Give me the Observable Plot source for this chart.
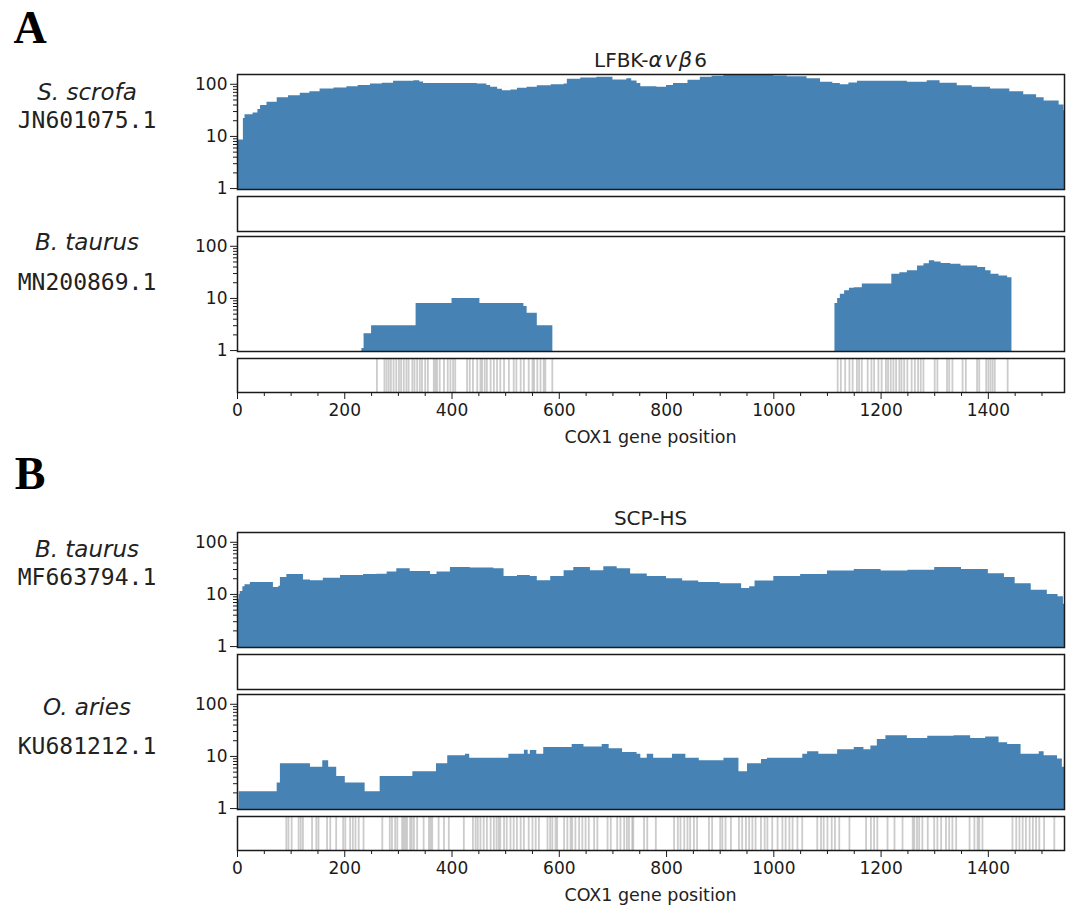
<!DOCTYPE html>
<html><head><meta charset="utf-8">
<script src="https://cdn.jsdelivr.net/npm/d3@7"></script>
<script src="https://cdn.jsdelivr.net/npm/@observablehq/plot@0.6"></script>
<style>
body{margin:0;background:#fff;}
#fig{position:relative;width:1072px;height:906px;background:#fff;font-family:"DejaVu Sans",sans-serif;color:#222;overflow:hidden;}
#fig svg{overflow:visible;}
.m{font-style:italic;font-size:21px;letter-spacing:2px;}
</style></head><body><div id="fig"></div>
<script>
// ---------------- data ----------------
const geneLength = 1542;
const panelLetters = ["A", "B"];
const panelTitles = ["LFBK-<span class='m'>αvβ</span>6", "SCP-HS"];
const speciesNames = ["S. scrofa", "B. taurus", "B. taurus", "O. aries"];
const accessions = ["JN601075.1", "MN200869.1", "MF663794.1", "KU681212.1"];
const xLabel = "COX1 gene position";
const yMajorTicks = [1, 10, 100];
const yMinorTicks = [2, 3, 4, 5, 6, 7, 8, 9, 20, 30, 40, 50, 60, 70, 80, 90];
const xMajorTicks = [0, 200, 400, 600, 800, 1000, 1200, 1400];
const xMinorTicks = [50, 100, 150, 250, 300, 350, 450, 500, 550, 650, 700, 750, 850, 900, 950, 1050, 1100, 1150, 1250, 1300, 1350, 1450, 1500];
const coverageFloor = 0.96;
const coverageCeil = 154;

// coverage [position, depth]
const covScrofa = [[0,8.5],[9,8.5],[11,22],[14,26],[29,28],[38,33],[43,39],[55,45],[74,55],[95,60],[117,67],[135,72],[154,81],[180,85],[204,90],[225,95],[248,101],[270,105],[291,114],[329,117],[340,110],[347,104],[391,104],[420,103],[447,101],[465,95],[472,88],[485,80],[494,75],[510,78],[522,84],[540,88],[559,94],[585,98],[609,101],[615,125],[640,132],[670,136],[700,121],[726,127],[735,115],[745,104],[752,90],[782,88],[800,95],[813,104],[840,120],[863,136],[885,142],[907,147],[969,147],[1000,144],[1025,140],[1062,127],[1087,109],[1110,103],[1124,98],[1140,106],[1156,114],[1218,114],[1249,109],[1286,117],[1310,105],[1342,94],[1370,88],[1404,81],[1440,72],[1466,63],[1490,55],[1504,48],[1522,48],[1532,40],[1541,31],[1542,31]];
const covTaurusA1 = [[232,1.1],[236,2.1],[250,3],[333,8],[400,10],[452,8],[534,7],[540,5.2],[559,3],[588,3]];
const covTaurusA2 = [[1114,8],[1119,10],[1124,12],[1132,14],[1141,15.7],[1150,16],[1165,19],[1219,19],[1220,29],[1235,31],[1249,34],[1268,42],[1280,46],[1290,53],[1300,50],[1312,47],[1330,45],[1349,42],[1380,39],[1395,34],[1405,29],[1420,27],[1436,25],[1444,25]];
const covTaurusB = [[0,8],[3,10],[5,11.4],[10,14],[14,15.3],[24,17],[64,17],[67,13.6],[77,14.4],[80,21],[92,24],[117,24],[123,19],[136,18.3],[160,20.5],[192,23],[235,24],[260,24.5],[279,27],[297,31],[322,27.6],[360,24],[372,27],[397,33],[434,32],[478,31],[497,22],[522,23],[546,22],[559,18.3],[584,22],[609,28.6],[627,33],[658,28.6],[683,34],[708,31],[733,24.6],[764,22],[800,20],[830,18],[860,17],[900,16],[930,16],[940,13],[955,14],[965,18],[1000,22],[1050,24],[1100,28],[1150,30],[1200,28],[1250,29],[1300,33],[1350,30],[1400,25],[1430,21],[1450,16],[1480,12],[1510,10],[1530,9],[1540,6.5],[1542,6.5]];
const covAries = [[0,1],[3,2.1],[74,3.1],[80,7.2],[136,6.2],[159,8.3],[170,6.2],[185,4.1],[201,3.1],[238,2.1],[266,4.1],[327,5.1],[371,7.2],[392,10.3],[425,11],[433,9.2],[506,11],[535,13.2],[542,11],[546,13],[558,11],[571,14.8],[624,17],[646,15.2],[680,17],[693,14],[718,11.9],[745,11],[752,9.2],[764,11],[776,9.2],[811,11],[836,9.2],[861,8.3],[907,9.2],[935,5.1],[951,7.2],[977,8.7],[988,9.2],[1054,11],[1063,12.3],[1084,11],[1119,13.4],[1150,14.8],[1168,13.4],[1181,15.9],[1193,21],[1209,25],[1249,22],[1287,24.5],[1336,25],[1367,22],[1395,23.6],[1420,18.3],[1436,17],[1461,11],[1495,12.3],[1504,10.3],[1529,8.9],[1538,6.2],[1542,6.2]];

// mismatch positions
const mismatchA = [260,274,278,282,286,291,296,301,305,310,315,319,326,330,335,340,344,350,355,366,369,372,377,385,392,397,402,406,428,433,439,447,453,456,461,465,472,478,484,490,497,506,515,520,528,534,543,550,553,559,565,571,574,587,
 1119,1125,1133,1141,1147,1155,1159,1164,1175,1182,1187,1195,1201,1209,1213,1218,1223,1228,1234,1238,1243,1249,1257,1263,1269,1274,1279,1300,1305,1323,1327,1333,1352,1358,1379,1383,1396,1400,1404,1408,1412,1436];
const mismatchB = [91,95,101,114,118,122,139,147,151,167,173,184,197,201,210,215,220,226,235,270,284,288,294,298,307,310,313,316,322,325,329,335,347,357,360,363,375,385,394,422,439,444,448,453,459,465,472,478,483,487,490,497,502,509,515,521,528,534,543,550,556,562,578,583,587,593,596,609,615,621,624,630,637,643,649,655,665,671,690,696,708,714,721,726,730,736,738,758,764,
 780,814,821,826,833,839,844,851,857,879,885,900,904,910,920,935,941,948,954,960,966,976,983,988,997,1007,1016,1022,1029,1035,1044,1053,1081,1088,1093,1100,1108,1114,1122,1141,1172,1181,1187,1193,1212,1225,1240,1259,1262,1267,1271,1277,1287,1299,1305,1312,1321,1327,1333,1340,1365,1374,1380,1383,1389,1445,1452,1458,1464,1470,1477,1483,1489,1495,1504,1523];

// ---------------- layout ----------------
const fig = document.getElementById("fig");
const FILL = "#4682b4";
const INK = "#1a1a1a";
const X0 = 237, X1 = 1064, W = 1072;

function put(node, top) {
  node.style.position = "absolute";
  node.style.left = "0px";
  node.style.top = top + "px";
  fig.appendChild(node);
}
function text(html, cx, cy, css) {
  const d = document.createElement("div");
  d.innerHTML = html;
  d.style.cssText = `position:absolute;left:${cx}px;top:${cy}px;transform:translate(-50%,-50%);white-space:nowrap;line-height:1;` + css;
  fig.appendChild(d);
}
const baseStyle = {fontFamily: "DejaVu Sans", fontSize: "17px", color: INK, background: "transparent", overflow: "visible"};

function coveragePlot(series, frameTop, frameH) {
  const pad = 2;
  const p = Plot.plot({
    width: W, height: frameH + 2 * pad,
    marginLeft: X0, marginRight: W - X1, marginTop: pad, marginBottom: pad,
    x: {domain: [0, geneLength], axis: null},
    y: {type: "log", domain: [coverageFloor, coverageCeil], axis: null},
    style: baseStyle,
    marks: [
      ...series.map(s => Plot.areaY(s, {x: d => d[0], y1: coverageFloor, y2: d => d[1], curve: "step-after", fill: FILL})),
      Plot.axisY({ticks: yMajorTicks, tickFormat: d => String(d), tickSize: 7, tickPadding: 3, label: null, fontSize: 17}),
      Plot.axisY({ticks: yMinorTicks, tickSize: 4, text: null, label: null}),
      Plot.frame({stroke: INK, strokeWidth: 1.5})
    ]
  });
  put(p, frameTop - pad);
}
function emptyPlot(frameTop, frameH) {
  const pad = 2;
  const p = Plot.plot({
    width: W, height: frameH + 2 * pad,
    marginLeft: X0, marginRight: W - X1, marginTop: pad, marginBottom: pad,
    x: {domain: [0, geneLength], axis: null}, y: {domain: [0, 1], axis: null},
    style: baseStyle,
    marks: [Plot.frame({stroke: INK, strokeWidth: 1.5})]
  });
  put(p, frameTop - pad);
}
function mismatchPlot(positions, frameTop, frameH) {
  const pad = 2, bottom = 34;
  const p = Plot.plot({
    width: W, height: frameH + pad + bottom,
    marginLeft: X0, marginRight: W - X1, marginTop: pad, marginBottom: bottom,
    x: {domain: [0, geneLength]}, y: {domain: [0, 1], axis: null},
    style: baseStyle,
    marks: [
      Plot.ruleX(positions, {x: d => d, stroke: "#9a9a9a", strokeOpacity: 0.5, strokeWidth: 1.8}),
      Plot.axisX({ticks: xMajorTicks, tickFormat: d => String(d), tickSize: 7, tickPadding: 4, label: null, fontSize: 17}),
      Plot.axisX({ticks: xMinorTicks, tickSize: 4, text: null, label: null}),
      Plot.frame({stroke: INK, strokeWidth: 1.5})
    ]
  });
  put(p, frameTop - pad);
}

const panelCov = [[[covScrofa], [covTaurusA1, covTaurusA2]], [[covTaurusB], [covAries]]];
const panelMis = [mismatchA, mismatchB];
const CX = (X0 + X1) / 2;
const LX = 87;
const labelOffsets = [[[18, 46], [6, 46]], [[17, 45], [13, 52]]];
for (let i = 0; i < 2; i++) {
  const o = i * 458;
  const letterY = i === 0 ? 28 : 474;
  text(panelLetters[i], 30, letterY, 'font-family:"Liberation Serif",serif;font-weight:bold;font-size:46px;color:#000;');
  text(panelTitles[i], CX, 60 + o, "font-size:20px;");
  coveragePlot(panelCov[i][0], 74 + o, 115);
  emptyPlot(196 + o, 35);
  coveragePlot(panelCov[i][1], 236 + o, 115);
  mismatchPlot(panelMis[i], 358 + o, 34);
  text(xLabel, CX, 438 + o, "font-size:17.5px;");
  for (let k = 0; k < 2; k++) {
    const idx = i * 2 + k;
    const top = (k === 0 ? 74 : 236) + o;
    text(speciesNames[idx], LX, top + labelOffsets[i][k][0], "font-style:italic;font-size:23px;");
    text(accessions[idx], LX, top + labelOffsets[i][k][1], 'font-family:"DejaVu Sans Mono",monospace;font-size:23px;');
  }
}
</script></body></html>
